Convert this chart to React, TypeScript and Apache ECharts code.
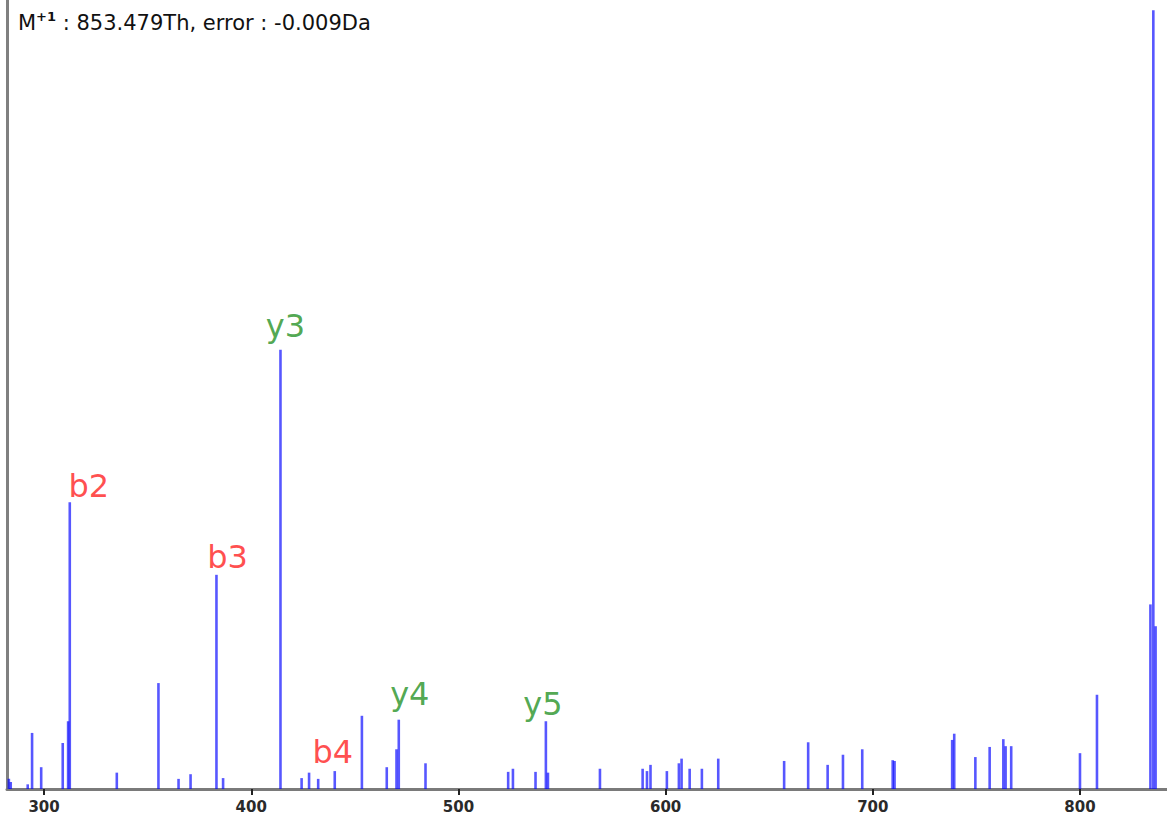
import { useEffect, useRef } from "react";
import * as echarts from "echarts";

// ---- data ----
const peakMz = [
  283.0, 283.9, 292.1, 294.2, 298.6, 309.0, 311.6, 312.4, 335.1, 355.2,
  364.9, 370.7, 383.2, 386.4, 414.1, 424.3, 427.9, 432.3, 440.3, 453.4,
  465.4, 470.1, 471.2, 484.1, 524.0, 526.3, 537.2, 542.2, 543.2, 568.3,
  588.9, 591.0, 592.7, 600.6, 606.4, 607.7, 611.6, 617.5, 625.4, 657.2,
  668.8, 678.2, 685.6, 694.9, 709.6, 710.5, 738.3, 739.3, 749.5, 756.4,
  763.0, 764.1, 766.8, 800.0, 808.2, 834.0, 835.4, 836.5,
];
const peakIntensity = [
  1.3, 0.9, 0.6, 7.2, 2.8, 5.9, 8.7, 36.8, 2.1, 13.6,
  1.3, 1.9, 27.5, 1.4, 56.4, 1.4, 2.1, 1.3, 2.3, 9.4,
  2.8, 5.1, 8.9, 3.3, 2.2, 2.6, 2.2, 8.7, 2.1, 2.6,
  2.6, 2.3, 3.1, 2.3, 3.3, 3.9, 2.6, 2.6, 3.9, 3.6,
  6.0, 3.1, 4.4, 5.1, 3.7, 3.6, 6.3, 7.1, 4.1, 5.4,
  6.4, 5.5, 5.5, 4.6, 12.1, 23.7, 100, 20.9,
];
const ionNames = ["b2", "b3", "b4", "y3", "y4", "y5"];
const ionMz = [312.4, 383.2, 440.3, 414.1, 471.2, 542.2];
const ionIntensity = [36.8, 27.5, 2.3, 56.4, 8.9, 8.7];
const xTickValues = [300, 400, 500, 600, 700, 800];
const precursorCharge = "+1";
const precursorMz = "853.479";
const precursorError = "-0.009";

// ---- layout / style (not data) ----
const X_MIN = 282.1;
const X_MAX = 842;
const Y_MAX = 101.3;
const labelNudge: Record<string, [number, number]> = {
  b2: [19, 0],
  b3: [11, -2],
  b4: [-2, -3],
  y3: [5, -8],
  y4: [11, -10],
  y5: [-3, -1],
};
const FONT = "DejaVu Sans";

export default function App() {
  const ref = useRef<HTMLDivElement>(null);

  useEffect(() => {
    if (!ref.current) return;
    const chart = echarts.init(ref.current, undefined, { renderer: "svg" });

    const option = {
      animation: false,
      backgroundColor: "#ffffff",
      grid: { left: 7, right: 0, top: 0, bottom: 29, containLabel: false },
      xAxis: {
        type: "value",
        min: X_MIN,
        max: X_MAX,
        splitLine: { show: false },
        axisLine: { show: true, lineStyle: { color: "#7a7a7a", width: 3 } },
        axisTick: { show: true, length: 6, lineStyle: { color: "#222", width: 2 } },
        axisLabel: {
          show: true,
          showMinLabel: false,
          showMaxLabel: false,
          margin: 10,
          fontFamily: FONT,
          fontSize: 15,
          fontWeight: "bold",
          color: "#2a2a2a",
          formatter: (v: number) =>
            xTickValues.some((t) => Math.abs(t - v) < 1e-6) ? String(Math.round(v)) : "",
        },
      },
      yAxis: {
        type: "value",
        min: 0,
        max: Y_MAX,
        splitLine: { show: false },
        axisLine: { show: true, onZero: false, lineStyle: { color: "#808080", width: 3 } },
        axisTick: { show: false },
        axisLabel: { show: false },
      },
      series: [
        {
          type: "bar",
          silent: true,
          barWidth: 2.6,
          data: peakMz.map((m, i) => [m, peakIntensity[i]]),
          itemStyle: { color: "rgba(0,0,255,0.66)" },
          z: 2,
        },
        {
          type: "scatter",
          silent: true,
          symbolSize: 0,
          data: ionNames.map((n, i) => ({
            name: n,
            value: [ionMz[i], ionIntensity[i]],
            label: {
              offset: labelNudge[n],
              color: n.startsWith("b") ? "#ff1f1f" : "#259125",
            },
          })),
          label: {
            show: true,
            position: "top",
            distance: 0,
            formatter: "{b}",
            fontFamily: FONT,
            fontSize: 32,
          },
          z: 3,
        },
      ],
      graphic: [
        {
          type: "text",
          left: 18,
          top: 10,
          style: {
            text: `{m|M}{s|${precursorCharge}}{m| : ${precursorMz}Th, error : ${precursorError}Da}`,
            rich: {
              m: { fontSize: 21, fontFamily: FONT, fill: "#111", lineHeight: 26 },
              s: {
                fontSize: 13,
                fontWeight: "bold",
                fontFamily: FONT,
                fill: "#111",
                verticalAlign: "top",
                lineHeight: 14,
              },
            },
          },
        },
      ],
    };

    chart.setOption(option as any);
    return () => chart.dispose();
  }, []);

  return (
    <div
      ref={ref}
      style={{ position: "absolute", left: 0, top: 0, width: 1167, height: 818 }}
    />
  );
}
